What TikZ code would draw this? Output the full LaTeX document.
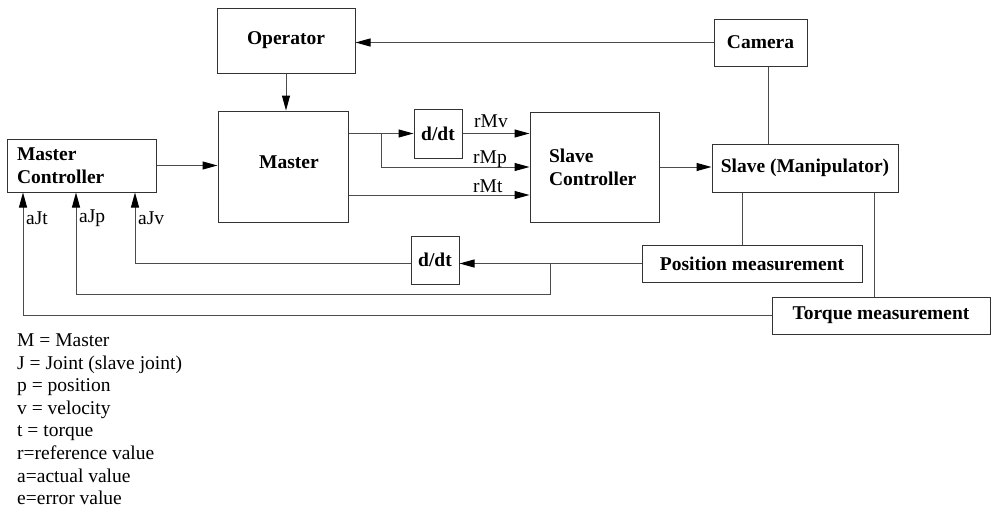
\documentclass[tikz,border=0pt]{standalone}
\usepackage{fontspec}
\setmainfont{Liberation Serif}
\usetikzlibrary{arrows.meta}
\begin{document}
\begin{tikzpicture}[x=1pt,y=-1pt,
  box/.style={draw=black!80, line width=1pt, inner sep=0pt, font=\fontsize{19.5}{23}\selectfont\bfseries},
  wire/.style={draw=black!70, line width=1pt},
  arr/.style={wire, -{Triangle[length=15pt,width=8pt,color=black]}},
  lbl/.style={inner sep=0pt, font=\fontsize{19.5}{23}\selectfont},
]
\path[use as bounding box] (0,0) rectangle (991,509);

% blocks
\node[box, minimum width=138pt, minimum height=65pt] (op) at (286,40.5) {Operator};
\node[box, minimum width=130pt, minimum height=111pt, text width=118pt, align=center, text depth=9pt] (master) at (283,166.5) {\hspace*{12pt}Master};
\node[box, minimum width=149pt, minimum height=53pt, text width=129pt, align=left] (mc) at (81.5,165.5) {Master\\Controller};
\node[box, minimum width=48pt, minimum height=49pt] (d1) at (438,133.5) {d/dt};
\node[box, minimum width=129pt, minimum height=110pt, text width=91pt, align=left] (sc) at (594.5,167) {Slave\\Controller};
\node[box, minimum width=93pt, minimum height=47pt] (cam) at (760.5,42.5) {Camera};
\node[box, minimum width=186pt, minimum height=48pt] (slave) at (805,168) {Slave (Manipulator)};
\node[box, minimum width=220pt, minimum height=37pt] (pm) at (752,263.5) {Position measurement};
\node[box, minimum width=218pt, minimum height=37pt] (tm) at (881,315.5) {Torque measurement};
\node[box, minimum width=48pt, minimum height=48pt] (d2) at (435,260) {d/dt};

% helper coordinates
\coordinate (br1) at (381,134);
\coordinate (rmt) at (400,195);
\coordinate (br2) at (550,263.5);
\coordinate (ajt) at (23,315.5);
\coordinate (ajp) at (76,294);
\coordinate (ajv) at (135,263.5);

% connectors
\draw[arr] (cam.west) -- (cam.west -| op.east);
\draw[arr] (op.south) -- (op.south |- master.north);
\draw[arr] (mc.east) -- (mc.east -| master.west);
\draw[arr] (master.east |- d1.west) -- (d1.west);
\draw[arr] (br1) |- (sc.west);
\draw[arr] (d1.east) -- (d1.east -| sc.west);
\draw[arr] (master.east |- rmt) -- (sc.west |- rmt);
\draw[arr] (sc.east) -- (sc.east -| slave.west);
\draw[wire] ([xshift=7.5pt]cam.south) -- ([xshift=7.5pt]cam.south |- slave.north);
\draw[wire] ([xshift=-63pt]slave.south) -- ([xshift=-63pt]slave.south |- pm.north);
\draw[wire] ([xshift=69pt]slave.south) -- ([xshift=69pt]slave.south |- tm.north);
\draw[arr] (pm.west) -- (pm.west -| d2.east);
\draw[arr] (d2.west |- pm.west) -| (ajv |- mc.south);
\draw[arr] (br2) |- (ajp) -- (ajp |- mc.south);
\draw[arr] (tm.west) -| (ajt |- mc.south);

% signal labels
\node[lbl, anchor=base west] (lrmv) at (474,127) {rMv};
\node[lbl, anchor=base west] (lrmp) at (473,163) {rMp};
\node[lbl, anchor=base west] (lrmt) at (473,192) {rMt};
\node[lbl, anchor=west] (lajt) at (26,218) {aJt};
\node[lbl, anchor=west] (lajp) at (79,218) {aJp};
\node[lbl, anchor=west] (lajv) at (138,218) {aJv};

% legend
\node[lbl, anchor=base west] (leg1) at (17,346.5) {M = Master};
\node[lbl, anchor=base west] (leg2) at (17,369.1) {J = Joint (slave joint)};
\node[lbl, anchor=base west] (leg3) at (17,391.7) {p = position};
\node[lbl, anchor=base west] (leg4) at (17,414.3) {v = velocity};
\node[lbl, anchor=base west] (leg5) at (17,436.9) {t = torque};
\node[lbl, anchor=base west] (leg6) at (17,459.5) {r=reference value};
\node[lbl, anchor=base west] (leg7) at (17,482.1) {a=actual value};
\node[lbl, anchor=base west] (leg8) at (17,504.7) {e=error value};
\end{tikzpicture}
\end{document}
